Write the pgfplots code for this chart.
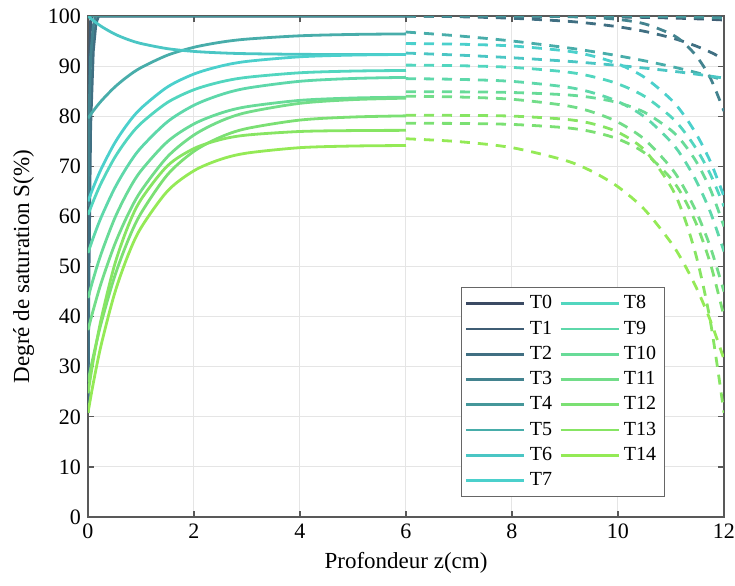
\documentclass[border=0pt]{standalone}
\usepackage{fontspec}
\setmainfont{Liberation Serif}
\usepackage{pgfplots}
\pgfplotsset{compat=1.18}
\definecolor{c0}{HTML}{3B4A63}
\definecolor{c1}{HTML}{3F5D74}
\definecolor{c2}{HTML}{406F82}
\definecolor{c3}{HTML}{43838F}
\definecolor{c4}{HTML}{45979A}
\definecolor{c5}{HTML}{48ADAA}
\definecolor{c6}{HTML}{4AC6C4}
\definecolor{c7}{HTML}{4BD0CC}
\definecolor{c8}{HTML}{52D6BF}
\definecolor{c9}{HTML}{5ED8AA}
\definecolor{c10}{HTML}{68DB98}
\definecolor{c11}{HTML}{72DD89}
\definecolor{c12}{HTML}{7BE073}
\definecolor{c13}{HTML}{87E563}
\definecolor{c14}{HTML}{94EA56}
\pgfplotsset{dsh/.style={dash pattern=on 5pt off 4pt, forget plot}}
\begin{document}
\begin{tikzpicture}
\begin{axis}[
  scale only axis,
  width=318pt, height=250.5pt,
  xmin=0, xmax=12, ymin=0, ymax=100,
  xtick={0,2,...,12}, ytick={0,10,...,100},
  tick align=inside, major tick length=3pt,
  xtick pos=both, ytick pos=both,
  grid=major, major grid style={black!10, line width=0.5pt},
  axis line style={black!65, line width=0.6pt},
  tick style={black!65, line width=0.6pt},
  /pgf/number format/assume math mode=true,
  tick label style={font=\fontsize{11}{13}\selectfont},
  label style={font=\fontsize{11.5}{13}\selectfont},
  xlabel={Profondeur z(cm)}, ylabel={Degré de saturation S(\%)},
  every axis plot/.append style={line width=1.4pt},
  legend columns=8, transpose legend,
  legend cell align=left,
  legend image code/.code={\draw[#1] (0pt,0pt) -- (29pt,0pt);},
  legend style={at={(axis cs:7.03,45.9)}, anchor=north west, draw=black!60, line width=0.5pt,
    font=\fontsize{10}{12}\selectfont, fill=white, row sep=0.5pt, inner xsep=2pt,
    /tikz/every even column/.append style={column sep=1.5pt}},
]
% ---------- solid (0 to 6) ----------
\addplot[c0] coordinates {(0,100) (6,100)};
\addplot[c1] coordinates {(0,20.8) (0.01,55) (0.02,80) (0.03,92) (0.05,99) (0.08,100) (6,100)};
\addplot[c2] coordinates {(0,20.8) (0.02,50) (0.05,78) (0.1,93) (0.15,98.5) (0.2,100) (6,100)};
\addplot[c3] coordinates {(0,62) (0.02,80) (0.05,92) (0.1,98) (0.14,100) (6,100)};
\addplot[c4] coordinates {(0,100) (6,100)};
\addplot[c5, smooth] coordinates {(0,79.6) (0.1,81.07) (0.25,83.04) (0.5,85.77) (0.75,87.95) (1,89.69) (1.5,92.18) (2,93.76) (2.5,94.76) (3,95.39) (4,96.05) (5,96.32) (6,96.43)};
\addplot[c6, smooth] coordinates {(0,100) (0.1,99.10) (0.25,97.93) (0.5,96.42) (0.75,95.32) (1,94.51) (1.5,93.48) (2,92.93) (2.5,92.64) (3,92.48) (4,92.35) (5,92.31) (6,92.30)};
\addplot[c7, smooth] coordinates {(0,63) (0.1,65.80) (0.25,69.50) (0.5,74.57) (0.75,78.51) (1,81.58) (1.5,85.84) (2,88.42) (2.5,89.99) (3,90.94) (4,91.86) (5,92.20) (6,92.33)};
\addplot[c8, smooth] coordinates {(0,60.3) (0.1,63.05) (0.25,66.69) (0.5,71.67) (0.75,75.55) (1,78.57) (1.5,82.75) (2,85.29) (2.5,86.83) (3,87.76) (4,88.67) (5,89.01) (6,89.13)};
\addplot[c9, smooth] coordinates {(0,52.7) (0.1,55.76) (0.25,59.86) (0.5,65.56) (0.75,70.10) (1,73.72) (1.5,78.90) (2,82.19) (2.5,84.27) (3,85.60) (4,86.97) (5,87.53) (6,87.75)};
\addplot[c10, smooth] coordinates {(0,43.7) (0.1,47.53) (0.25,52.59) (0.5,59.52) (0.75,64.91) (1,69.11) (1.5,74.93) (2,78.46) (2.5,80.60) (3,81.90) (4,83.16) (5,83.63) (6,83.80)};
\addplot[c11, smooth] coordinates {(0,37.3) (0.1,41.34) (0.25,46.75) (0.5,54.28) (0.75,60.28) (1,65.07) (1.5,71.91) (2,76.25) (2.5,79.01) (3,80.76) (4,82.57) (5,83.31) (6,83.60)};
\addplot[c12, smooth] coordinates {(0,27) (0.1,32.06) (0.25,38.77) (0.5,47.93) (0.75,55.07) (1,60.63) (1.5,68.33) (2,73.0) (2.5,75.83) (3,77.55) (4,79.23) (5,79.84) (6,80.07)};
\addplot[c13, smooth] coordinates {(0,24.7) (0.1,31.26) (0.25,39.58) (0.5,50.25) (0.75,57.89) (1,63.36) (1.5,70.10) (2,73.55) (2.5,75.33) (3,76.24) (4,76.95) (5,77.13) (6,77.18)};
\addplot[c14, smooth] coordinates {(0,20.8) (0.1,26.73) (0.25,34.42) (0.5,44.55) (0.75,52.10) (1,57.73) (1.5,65.06) (2,69.12) (2.5,71.38) (3,72.64) (4,73.72) (5,74.05) (6,74.15)};
\legend{T0,T1,T2,T3,T4,T5,T6,T7,T8,T9,T10,T11,T12,T13,T14}
% ---------- dashed (6 to 12) ----------
\addplot[c0, dsh] coordinates {(6,100) (12,100)};
\addplot[c1, dsh, smooth] coordinates {(6,100) (7,99.99) (8,99.96) (9,99.9) (9.5,99.86) (10,99.8) (10.5,99.72) (11,99.6) (11.25,99.52) (11.5,99.43) (11.75,99.33) (12,99.2)};
\addplot[c2, dsh, smooth] coordinates {(6,100) (7,99.85) (8,99.55) (9,98.98) (9.5,98.5) (10,97.85) (10.5,96.94) (11,95.67) (11.25,94.85) (11.5,93.89) (11.75,92.75) (12,91.4)};
\addplot[c3, dsh, smooth] coordinates {(6,100) (7,100) (8,99.98) (9,99.87) (9.5,99.71) (10,99.32) (10.5,98.44) (11,96.41) (11.25,94.57) (11.5,91.72) (11.75,87.46) (12,81)};
\addplot[c4, dsh, smooth] coordinates {(6,100) (9,99.98) (10,99.95) (11,99.85) (11.5,99.76) (12,99.6)};
\addplot[c5, dsh, smooth] coordinates {(6,96.8) (7,96.02) (8,95.01) (9,93.72) (9.5,92.94) (10,92.06) (10.5,91.06) (11,89.93) (11.25,89.31) (11.5,88.65) (11.75,87.95) (12,87.2)};
\addplot[c6, dsh, smooth] coordinates {(6,92.6) (7,92.19) (8,91.67) (9,91.0) (9.5,90.59) (10,90.13) (10.5,89.61) (11,89.02) (11.25,88.7) (11.5,88.36) (11.75,87.99) (12,87.6)};
\addplot[c7, dsh, smooth] coordinates {(6,94.5) (7,94.37) (8,94.02) (9,93.05) (9.5,92.07) (10,90.44) (10.5,87.76) (11,83.34) (11.25,80.13) (11.5,76.02) (11.75,70.77) (12,64)};
\addplot[c8, dsh, smooth] coordinates {(6,90.2) (7,90.08) (8,89.75) (9,88.86) (9.5,87.95) (10,86.45) (10.5,83.97) (11,79.88) (11.25,76.92) (11.5,73.11) (11.75,68.26) (12,62)};
\addplot[c9, dsh, smooth] coordinates {(6,87.5) (7,87.35) (8,86.95) (9,85.86) (9.5,84.75) (10,82.91) (10.5,79.88) (11,74.87) (11.25,71.25) (11.5,66.59) (11.75,60.66) (12,53)};
\addplot[c10, dsh, smooth] coordinates {(6,84.9) (7,84.86) (8,84.73) (9,84.28) (9.5,83.73) (10,82.7) (10.5,80.78) (11,77.21) (11.25,74.38) (11.5,70.51) (11.75,65.21) (12,58)};
\addplot[c11, dsh, smooth] coordinates {(6,84.0) (7,83.83) (8,83.38) (9,82.15) (9.5,80.89) (10,78.81) (10.5,75.38) (11,69.73) (11.25,65.63) (11.5,60.37) (11.75,53.66) (12,45)};
\addplot[c12, dsh, smooth] coordinates {(6,78.6) (7,78.55) (8,78.36) (9,77.71) (9.5,76.92) (10,75.45) (10.5,72.69) (11,67.56) (11.25,63.51) (11.5,57.95) (11.75,50.34) (12,40)};
\addplot[c13, dsh, smooth] coordinates {(6,80.2) (7,80.16) (8,80.02) (9,79.39) (9.5,78.54) (10,76.8) (10.5,73.25) (11,65.94) (11.25,59.83) (11.5,51.09) (11.75,38.62) (12,20.8)};
\addplot[c14, dsh, smooth] coordinates {(6,75.5) (7,74.92) (8,73.72) (9,71.19) (9.5,69.03) (10,65.91) (10.5,61.38) (11,54.78) (11.25,50.46) (11.5,45.27) (11.75,39.02) (12,31.5)};
\end{axis}
\pgfresetboundingbox
\useasboundingbox ([xshift=-44pt,yshift=-34pt]current axis.south west) rectangle ([xshift=5.5pt,yshift=8pt]current axis.north east);
\end{tikzpicture}
\end{document}
